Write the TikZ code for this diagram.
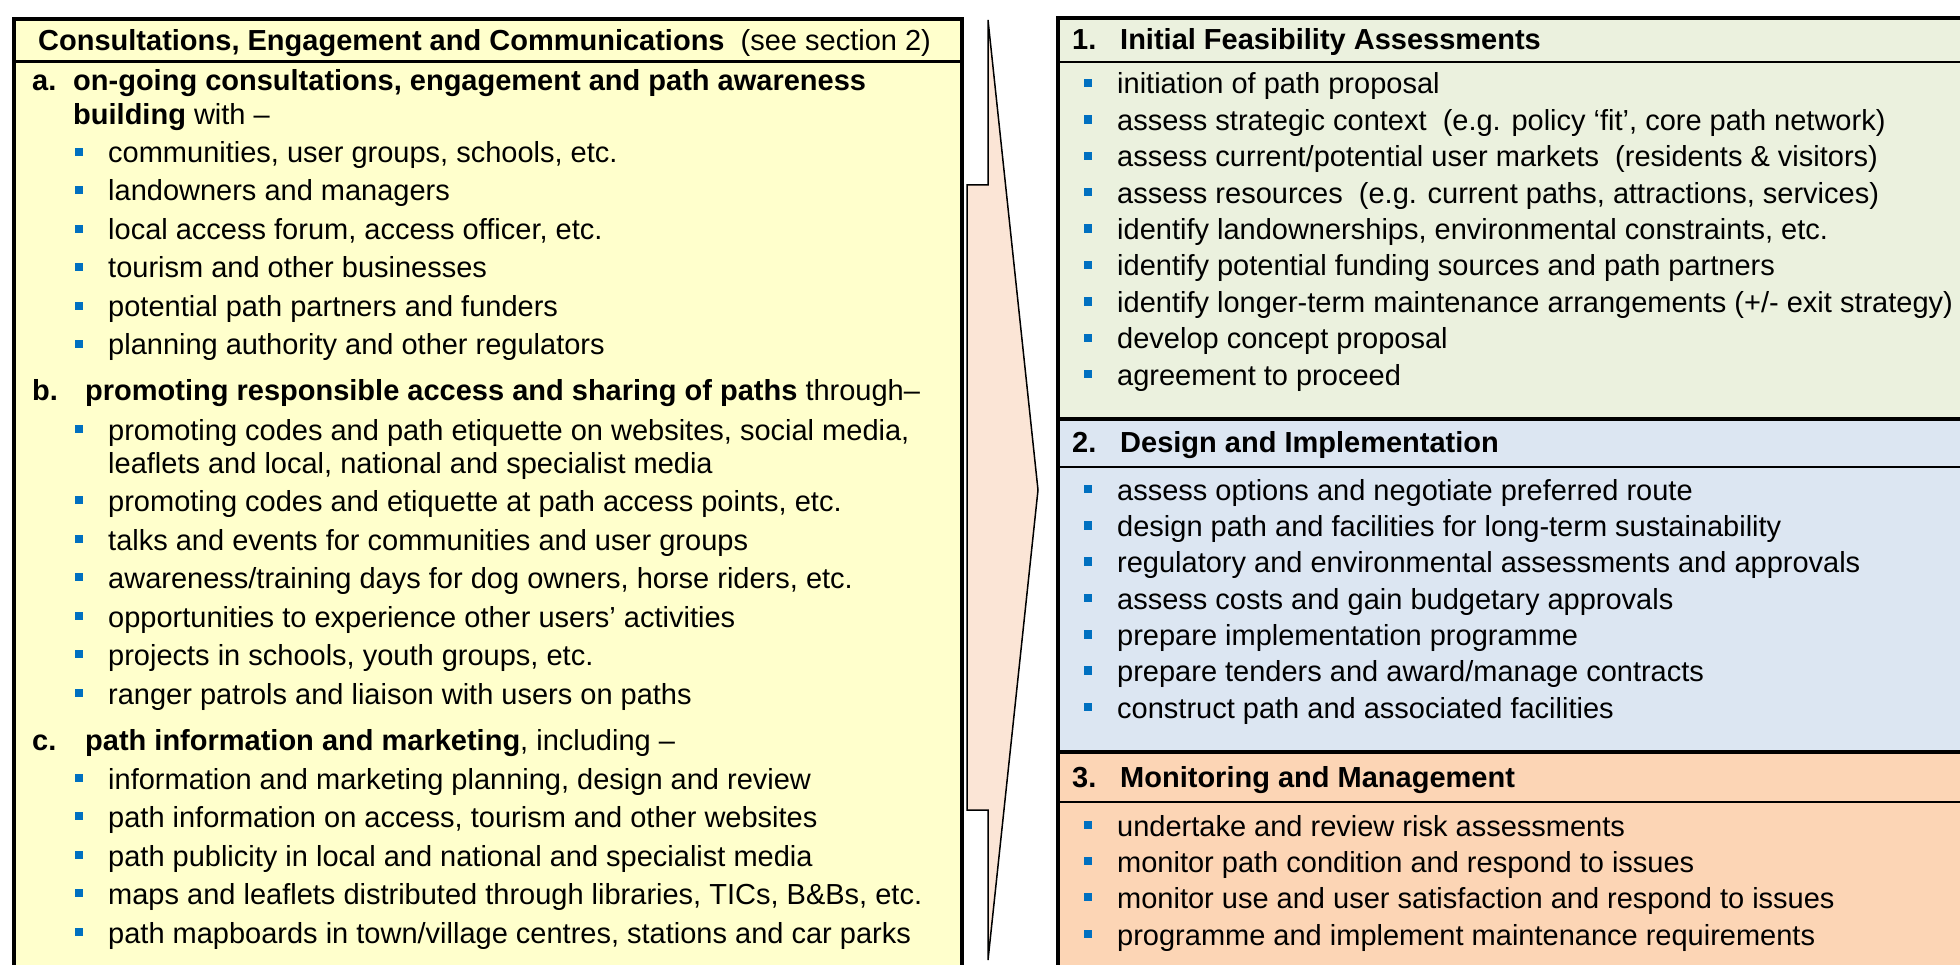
\documentclass[tikz,border=0pt]{standalone}
\usepackage{fontspec}
\setmainfont{Liberation Sans}
\definecolor{lyellow}{HTML}{FFFFCC}
\definecolor{sgreen}{HTML}{EBF1DE}
\definecolor{sblue}{HTML}{DCE6F2}
\definecolor{sorange}{HTML}{FCD5B5}
\definecolor{apeach}{HTML}{FBE5D6}
\definecolor{bulblue}{HTML}{0070C0}
\tikzset{
  txt/.style={anchor=base west, inner sep=0pt, font=\fontsize{29}{33}\selectfont},
  btxt/.style={txt, font=\fontsize{29}{33}\selectfont\bfseries},
  bsq/.style={fill=bulblue, draw=none, minimum size=8.5pt, inner sep=0pt},
  frame/.style={line width=4pt, draw=black},
  sep/.style={line width=2pt, draw=black},
  arrowshape/.style={fill=apeach, draw=black, line width=1.5pt, line join=miter}
}
\newcommand\bitem[4]{%
  \node[bsq] (#1b) at ({#2-29},{#3-11}) {};
  \node[txt] (#1) at (#2,#3) {#4};
}
\begin{document}
\begin{tikzpicture}[x=1pt,y=-1pt]
\useasboundingbox (0,0) rectangle (1960,965);
% ---------- left box ----------
\fill[lyellow] (14,19) rectangle (962,1000);
\draw[frame] (14,1000) -- (14,19) -- (962,19) -- (962,1000);
\draw[line width=3pt] (14,62) -- (962,62);
\node[txt] (lh) at (38,51) {\textbf{Consultations, Engagement and Communications}\ \ (see section 2)};
% a
\node[btxt] (la) at (32,91) {a.};
\node[txt] (la1) at (73,91) {\textbf{on-going consultations, engagement and path awareness}};
\node[txt] (la2) at (73,125) {\textbf{building} with –};
\bitem{a1}{108}{163}{communities, user groups, schools, etc.}
\bitem{a2}{108}{201}{landowners and managers}
\bitem{a3}{108}{240}{local access forum, access officer, etc.}
\bitem{a4}{108}{278}{tourism and other businesses}
\bitem{a5}{108}{317}{potential path partners and funders}
\bitem{a6}{108}{355}{planning authority and other regulators}
% b
\node[btxt] (lb) at (32,401) {b.};
\node[txt] (lb1) at (85,401) {\textbf{promoting responsible access and sharing of paths} through–};
\bitem{b1}{108}{440}{promoting codes and path etiquette on websites, social media,}
\node[txt] (b1x) at (108,473) {leaflets and local, national and specialist media};
\bitem{b2}{108}{511}{promoting codes and etiquette at path access points, etc.}
\bitem{b3}{108}{550}{talks and events for communities and user groups}
\bitem{b4}{108}{588}{awareness/training days for dog owners, horse riders, etc.}
\bitem{b5}{108}{627}{opportunities to experience other users’ activities}
\bitem{b6}{108}{665}{projects in schools, youth groups, etc.}
\bitem{b7}{108}{704}{ranger patrols and liaison with users on paths}
% c
\node[btxt] (lc) at (32,750) {c.};
\node[txt] (lc1) at (85,750) {\textbf{path information and marketing}, including –};
\bitem{c1}{108}{789}{information and marketing planning, design and review}
\bitem{c2}{108}{827}{path information on access, tourism and other websites}
\bitem{c3}{108}{866}{path publicity in local and national and specialist media}
\bitem{c4}{108}{904}{maps and leaflets distributed through libraries, TICs, B\&Bs, etc.}
\bitem{c5}{108}{943}{path mapboards in town/village centres, stations and car parks}
% ---------- arrow ----------
\draw[arrowshape] (988,20) -- (988,185) -- (967,185) -- (967,810) -- (988,810) -- (988,960) -- (1038,490) -- cycle;
% ---------- right box ----------
\fill[sgreen] (1058,18) rectangle (2000,419);
\fill[sblue] (1058,419) rectangle (2000,752);
\fill[sorange] (1058,752) rectangle (2000,1000);
\draw[sep] (1058,62) -- (2000,62);
\draw[sep] (1058,467) -- (2000,467);
\draw[sep] (1058,802) -- (2000,802);
\draw[frame] (1058,1000) -- (1058,18) -- (2000,18);
\draw[frame] (1058,419) -- (2000,419);
\draw[frame] (1058,752) -- (2000,752);
% section 1
\node[btxt] (r1n) at (1072,50) {1.};
\node[btxt] (r1h) at (1120,50) {Initial Feasibility Assessments};
\bitem{p1}{1117}{94}{initiation of path proposal}
\bitem{p2}{1117}{130.4}{assess strategic context\ \ (e.g. policy ‘fit’, core path network)}
\bitem{p3}{1117}{166.8}{assess current/potential user markets\ \ (residents \& visitors)}
\bitem{p4}{1117}{203.2}{assess resources\ \ (e.g. current paths, attractions, services)}
\bitem{p5}{1117}{239.6}{identify landownerships, environmental constraints, etc.}
\bitem{p6}{1117}{276}{identify potential funding sources and path partners}
\bitem{p7}{1117}{312.4}{identify longer-term maintenance arrangements (+/- exit strategy)}
\bitem{p8}{1117}{348.8}{develop concept proposal}
\bitem{p9}{1117}{385.2}{agreement to proceed}
% section 2
\node[btxt] (r2n) at (1072,453) {2.};
\node[btxt] (r2h) at (1120,453) {Design and Implementation};
\bitem{q1}{1117}{500}{assess options and negotiate preferred route}
\bitem{q2}{1117}{536.3}{design path and facilities for long-term sustainability}
\bitem{q3}{1117}{572.6}{regulatory and environmental assessments and approvals}
\bitem{q4}{1117}{609}{assess costs and gain budgetary approvals}
\bitem{q5}{1117}{645.3}{prepare implementation programme}
\bitem{q6}{1117}{681.6}{prepare tenders and award/manage contracts}
\bitem{q7}{1117}{718}{construct path and associated facilities}
% section 3
\node[btxt] (r3n) at (1072,787) {3.};
\node[btxt] (r3h) at (1120,787) {Monitoring and Management};
\bitem{s1}{1117}{836}{undertake and review risk assessments}
\bitem{s2}{1117}{872}{monitor path condition and respond to issues}
\bitem{s3}{1117}{908}{monitor use and user satisfaction and respond to issues}
\bitem{s4}{1117}{945}{programme and implement maintenance requirements}
\end{tikzpicture}
\end{document}
